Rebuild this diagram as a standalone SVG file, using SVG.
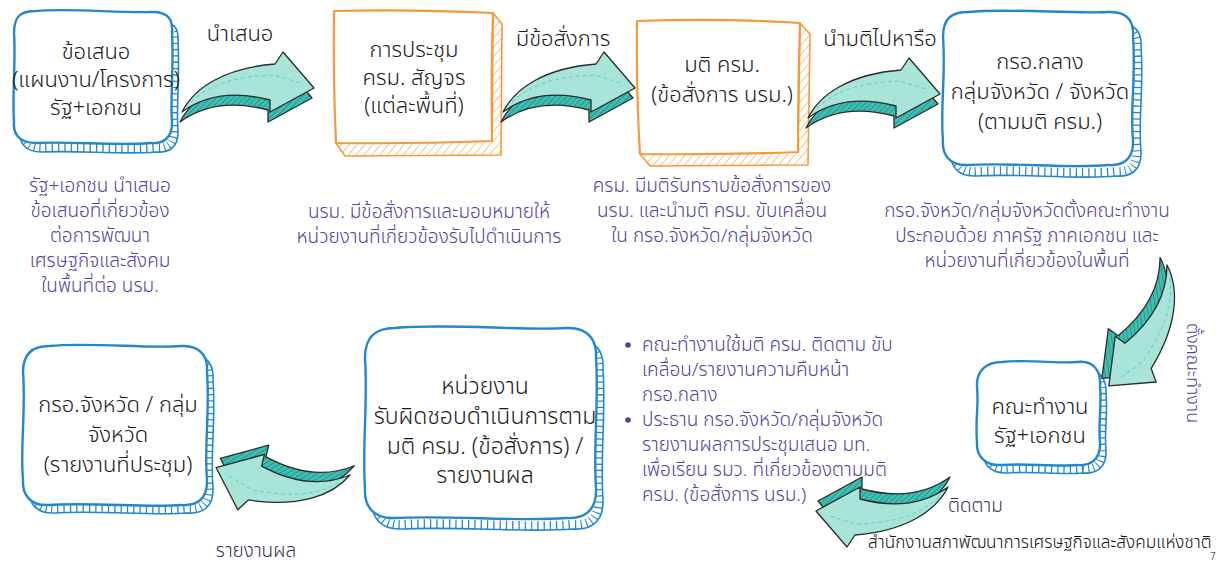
<svg xmlns="http://www.w3.org/2000/svg" xmlns:xlink="http://www.w3.org/1999/xlink" width="1223" height="562" viewBox="0 0 1223 562">
<style>
  text { font-family: 'Noto Sans', 'Noto Sans Thai', 'DejaVu Sans', sans-serif; font-weight: 300; }
  .bt { font-size: 22px; fill: #1b1b1b; text-anchor: middle; }
  .lb { font-size: 22px; fill: #1b1b1b; text-anchor: middle; }
  .ds { font-size: 19px; fill: #4f44a0; text-anchor: middle; }
  .bl { font-size: 19px; fill: #4f44a0; }
  .sm { font-size: 19px; fill: #3b3350; }
  .bk { fill: #fff; stroke: #2487CC; stroke-width: 1.6; }
  .tk { fill: none; stroke: #2487CC; stroke-width: 18; stroke-dasharray: 1.3 5; }
  .fr { fill: #fff; stroke: #2487CC; stroke-width: 2.4; stroke-linejoin: round; }
  .ob { fill: url(#hOr); stroke: #F59A3C; stroke-width: 1.6; stroke-linejoin: round; }
  .of { fill: #fff; stroke: #F59A3C; stroke-width: 2.2; stroke-linejoin: round; }
  .ax { fill: url(#hTe); stroke: #2a2a2a; stroke-width: 1.3; stroke-linejoin: round; }
  .af { fill: #a8e4d8; stroke: #2a2a2a; stroke-width: 1.3; stroke-linejoin: round; }
  .ad { fill: none; stroke: #5fcfc3; stroke-width: 1; stroke-dasharray: 4 3; }
</style>
<defs>
  <pattern id="hOr" width="6" height="6" patternUnits="userSpaceOnUse" patternTransform="rotate(40)">
    <rect width="6" height="6" fill="#fff"/>
    <line x1="0" y1="0" x2="0" y2="6" stroke="#F59A3C" stroke-width="1.2"/>
  </pattern>
  <pattern id="hTe" width="4" height="4" patternUnits="userSpaceOnUse" patternTransform="rotate(45)">
    <rect width="4" height="4" fill="#3cc0b4"/>
    <line x1="0" y1="0" x2="0" y2="4" stroke="#1f6f6a" stroke-width="1.1"/>
  </pattern>
  <g id="arr">
    <path class="ax" transform="translate(-2,10)" d="M 0,0 C 12,-24 42,-44 93,-48 L 101,-60 L 132,-24 L 88,0 L 88,-12 C 50,-22 22,-16 0,0 Z"/>
    <path class="af" d="M 0,0 C 12,-24 42,-44 93,-48 L 101,-60 L 132,-24 L 88,0 L 88,-12 C 50,-22 22,-16 0,0 Z"/>
    <path class="ad" d="M 9,-10 C 28,-28 55,-36 92,-37 L 118,-29"/>
  </g>
  <path id="p1" d="M 36,11 C 69,8 117,13 150,12 C 169,11 173,20 172,33 C 174,64 170,103 172,121 C 173,140 161,144 150,143 C 117,146 69,141 36,143 C 17,143 13,132 14,121 C 12,98 16,57 14,33 C 14,14 23,11 36,11 Z"/>
  <path id="p4" d="M 968,12 C 1010,8 1070,14 1108,12 C 1129,11 1134,23 1133,37 C 1136,75 1130,110 1133,140 C 1134,161 1121,166 1108,165 C 1070,169 1010,162 968,165 C 948,166 942,153 943,140 C 940,110 946,75 943,37 C 943,17 953,12 968,12 Z"/>
  <path id="p5" d="M 1002,362 C 1030,359 1060,364 1077,362 C 1095,360 1101,372 1100,387 C 1102,405 1098,425 1100,442 C 1101,460 1090,466 1077,465 C 1055,467 1025,463 1002,465 C 985,466 976,456 977,442 C 975,420 979,405 977,387 C 976,370 987,362 1002,362 Z"/>
  <path id="p6" d="M 395,328 C 450,323 520,331 566,328 C 590,327 597,342 596,358 C 599,400 593,450 596,488 C 597,512 583,519 566,518 C 520,522 450,515 395,518 C 372,519 364,505 365,488 C 362,450 368,400 365,358 C 365,336 376,328 395,328 Z"/>
  <path id="p7" d="M 49,346 C 90,342 150,349 181,346 C 202,345 208,358 207,372 C 210,410 204,450 207,479 C 208,500 196,506 181,505 C 150,508 90,502 49,505 C 30,506 22,495 23,479 C 20,450 26,410 23,372 C 23,353 33,346 49,346 Z"/>
  <clipPath id="c1"><use xlink:href="#p1" transform="translate(6,9)"/></clipPath>
  <clipPath id="c4"><use xlink:href="#p4" transform="translate(8,11)"/></clipPath>
  <clipPath id="c5"><use xlink:href="#p5" transform="translate(6,8)"/></clipPath>
  <clipPath id="c6"><use xlink:href="#p6" transform="translate(7,11)"/></clipPath>
  <clipPath id="c7"><use xlink:href="#p7" transform="translate(6,8)"/></clipPath>
</defs>
<rect width="1223" height="562" fill="#fff"/>

<g id="node1">
  <use xlink:href="#p1" class="bk" transform="translate(6,9)"/>
  <g clip-path="url(#c1)"><use xlink:href="#p1" class="tk" transform="translate(6,9)"/></g>
  <use xlink:href="#p1" class="fr"/>
  <text class="bt"><tspan x="96" y="59">ข้อเสนอ</tspan><tspan x="96" y="87">(แผนงาน/โครงการ)</tspan><tspan x="96" y="115">รัฐ+เอกชน</tspan></text>
</g>

<g id="node2">
  <path class="ob" d="M 493,13 L 502,24 L 501,155 L 345,156 L 336,143 L 492,141 Z"/>
  <path class="of" d="M 334,11 Q 410,9 493,13 Q 491,75 492,141 Q 414,144 336,143 Q 333,77 334,11 Z"/>
  <text class="bt"><tspan x="414" y="57">การประชุม</tspan><tspan x="414" y="85">ครม. สัญจร</tspan><tspan x="414" y="113">(แต่ละพื้นที่)</tspan></text>
</g>

<g id="node3">
  <path class="ob" d="M 800,23 L 810,34 L 808,165 L 650,166 L 640,154 L 798,152 Z"/>
  <path class="of" d="M 637,21 Q 720,18 800,23 Q 798,90 798,152 Q 720,155 640,154 Q 636,90 637,21 Z"/>
  <text class="bt"><tspan x="722" y="72">มติ ครม.</tspan><tspan x="722" y="102">(ข้อสั่งการ นรม.)</tspan></text>
</g>

<g id="node4">
  <use xlink:href="#p4" class="bk" transform="translate(8,11)"/>
  <g clip-path="url(#c4)"><use xlink:href="#p4" class="tk" transform="translate(8,11)"/></g>
  <use xlink:href="#p4" class="fr"/>
  <text class="bt"><tspan x="1040" y="69">กรอ.กลาง</tspan><tspan x="1040" y="99">กลุ่มจังหวัด / จังหวัด</tspan><tspan x="1040" y="129">(ตามมติ ครม.)</tspan></text>
</g>

<g id="node5">
  <use xlink:href="#p5" class="bk" transform="translate(6,8)"/>
  <g clip-path="url(#c5)"><use xlink:href="#p5" class="tk" transform="translate(6,8)"/></g>
  <use xlink:href="#p5" class="fr"/>
  <text class="bt"><tspan x="1040" y="414">คณะทำงาน</tspan><tspan x="1040" y="443">รัฐ+เอกชน</tspan></text>
</g>

<g id="node6">
  <use xlink:href="#p6" class="bk" transform="translate(7,11)"/>
  <g clip-path="url(#c6)"><use xlink:href="#p6" class="tk" transform="translate(7,11)"/></g>
  <use xlink:href="#p6" class="fr"/>
  <text class="bt" style="font-size:23px"><tspan x="485" y="394">หน่วยงาน</tspan><tspan x="485" y="424">รับผิดชอบดำเนินการตาม</tspan><tspan x="485" y="454">มติ ครม. (ข้อสั่งการ) /</tspan><tspan x="485" y="483">รายงานผล</tspan></text>
</g>

<g id="node7">
  <use xlink:href="#p7" class="bk" transform="translate(6,8)"/>
  <g clip-path="url(#c7)"><use xlink:href="#p7" class="tk" transform="translate(6,8)"/></g>
  <use xlink:href="#p7" class="fr"/>
  <text class="bt"><tspan x="118" y="412">กรอ.จังหวัด / กลุ่ม</tspan><tspan x="118" y="442">จังหวัด</tspan><tspan x="118" y="472">(รายงานที่ประชุม)</tspan></text>
</g>

<g id="connectors">
  <use xlink:href="#arr" transform="translate(182,112)"/>
  <use xlink:href="#arr" transform="translate(503,112)"/>
  <use xlink:href="#arr" transform="translate(808,118)"/>
  <use xlink:href="#arr" transform="translate(1167,265) rotate(126)"/>
  <use xlink:href="#arr" transform="translate(948,487) rotate(180)"/>
  <use xlink:href="#arr" transform="translate(350,475) rotate(193.5)"/>
  <text class="lb" x="240" y="41">นำเสนอ</text>
  <text class="lb" x="563" y="46">มีข้อสั่งการ</text>
  <text class="lb" x="880" y="46">นำมติไปหารือ</text>
  <text class="bl" transform="translate(1187,373) rotate(90)" text-anchor="middle" style="font-size:18px">ตั้งคณะทำงาน</text>
  <text class="sm" x="948" y="512">ติดตาม</text>
  <text class="sm" x="256" y="557" text-anchor="middle">รายงานผล</text>
</g>

<g id="desc1">
  <text class="ds"><tspan x="100" y="192">รัฐ+เอกชน นำเสนอ</tspan><tspan x="100" y="217">ข้อเสนอที่เกี่ยวข้อง</tspan><tspan x="100" y="242">ต่อการพัฒนา</tspan><tspan x="100" y="267">เศรษฐกิจและสังคม</tspan><tspan x="100" y="292">ในพื้นที่ต่อ นรม.</tspan></text>
</g>
<g id="desc2">
  <text class="ds"><tspan x="429" y="218">นรม. มีข้อสั่งการและมอบหมายให้</tspan><tspan x="429" y="243">หน่วยงานที่เกี่ยวข้องรับไปดำเนินการ</tspan></text>
</g>
<g id="desc3">
  <text class="ds"><tspan x="712" y="192">ครม. มีมติรับทราบข้อสั่งการของ</tspan><tspan x="712" y="217">นรม. และนำมติ ครม. ขับเคลื่อน</tspan><tspan x="712" y="242">ใน กรอ.จังหวัด/กลุ่มจังหวัด</tspan></text>
</g>
<g id="desc4">
  <text class="ds"><tspan x="1027" y="217">กรอ.จังหวัด/กลุ่มจังหวัดตั้งคณะทำงาน</tspan><tspan x="1027" y="242">ประกอบด้วย ภาครัฐ ภาคเอกชน และ</tspan><tspan x="1027" y="267">หน่วยงานที่เกี่ยวข้องในพื้นที่</tspan></text>
</g>
<g id="bullets">
  <circle cx="628" cy="345" r="2.8" fill="#4f44a0"/>
  <circle cx="628" cy="420" r="2.8" fill="#4f44a0"/>
  <text class="bl"><tspan x="642" y="351">คณะทำงานใช้มติ ครม. ติดตาม ขับ</tspan><tspan x="642" y="376">เคลื่อน/รายงานความคืบหน้า</tspan><tspan x="642" y="401">กรอ.กลาง</tspan><tspan x="642" y="426">ประธาน กรอ.จังหวัด/กลุ่มจังหวัด</tspan><tspan x="642" y="451">รายงานผลการประชุมเสนอ มท.</tspan><tspan x="642" y="476">เพื่อเรียน รมว. ที่เกี่ยวข้องตามมติ</tspan><tspan x="642" y="501">ครม. (ข้อสั่งการ นรม.)</tspan></text>
</g>
<g id="footer">
  <text x="868" y="548" style="font-size:17.2px;fill:#111">สำนักงานสภาพัฒนาการเศรษฐกิจและสังคมแห่งชาติ</text>
  <text x="1210" y="560" style="font-size:10px;fill:#111">7</text>
</g>
</svg>
